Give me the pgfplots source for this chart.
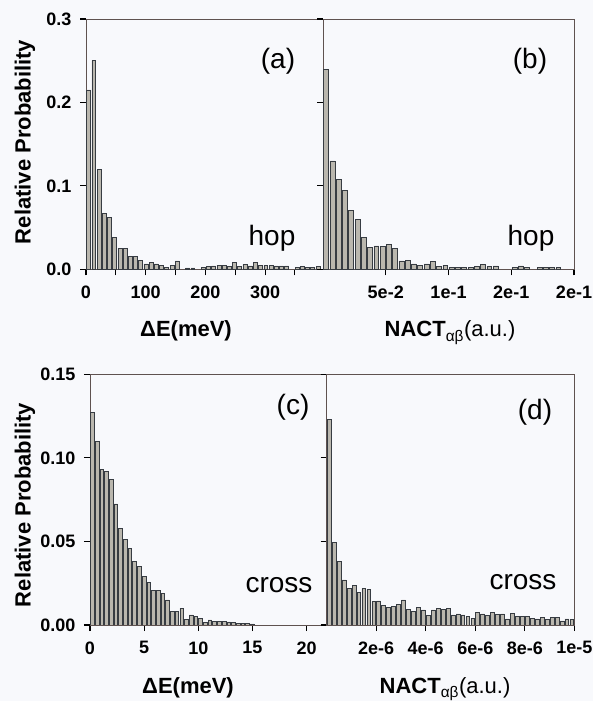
\documentclass[border=0pt]{standalone}
\usepackage{fontspec}
\setmainfont{Liberation Sans}
\usepackage{pgfplots}
\pgfplotsset{compat=1.18}

\definecolor{bg}{RGB}{248,249,252}
\definecolor{barfill}{RGB}{186,183,174}
\definecolor{baredge}{RGB}{55,60,66}
\definecolor{frame}{RGB}{95,82,80}

\pgfplotsset{
  panel/.style={
    scale only axis, anchor=south west,
    tick align=outside, tick pos=left,
    major tick length=6pt,
    tick style={black, line width=1.1pt},
    axis line style={frame, line width=0.8pt},
    ticklabel style={font=\bfseries\fontsize{18}{20}\selectfont},
    xticklabel style={yshift=-7pt},
    yticklabel style={xshift=-5pt},
    ymin=0,
  },
  hist/.style={ybar, bar width=#1, fill=barfill, draw=baredge, line width=0.65pt},
}
\newcommand\paneltext{\fontsize{28}{30}\selectfont}
\newcommand\labeltext{\bfseries\fontsize{22}{24}\selectfont}

\begin{document}
\begin{tikzpicture}
\fill[bg] (0,0) rectangle (593pt,701pt);

% (a) hop, energy gap
\begin{axis}[panel, at={(86pt,431.7pt)}, width=237pt, height=250.3pt,
  xmin=0, xmax=397, ymax=0.3,
  xtick={0,50,...,350}, xticklabels={0,,100,,200,,300,},
  ytick={0,0.1,0.2,0.3}, yticklabels={0.0,0.1,0.2,0.3}]
\addplot[hist=6.6] coordinates {
(4.37,0.215)(13.10,0.250)(21.83,0.120)(30.56,0.067)(39.29,0.062)(48.02,0.038)
(56.75,0.025)(65.48,0.025)(74.21,0.015)(82.94,0.015)(91.67,0.011)(100.40,0.0065)
(109.13,0.0085)(117.86,0.0065)(126.59,0.005)(135.32,0.002)(144.05,0.005)(152.78,0.010)
(170.24,0.0016)(178.97,0.0016)(196.43,0.002)(205.16,0.003)(213.89,0.004)(222.62,0.005)
(231.35,0.005)(240.08,0.003)(248.81,0.008)(257.54,0.003)(266.27,0.006)(275.00,0.004)
(283.73,0.008)(292.46,0.005)(301.19,0.005)(309.92,0.005)(318.65,0.004)(327.38,0.004)
(336.11,0.004)(353.57,0.002)(362.30,0.003)(371.03,0.002)(379.76,0.002)(388.49,0.003)
};
\end{axis}

% (b) hop, coupling
\begin{axis}[panel, at={(323pt,431.7pt)}, width=251pt, height=250.3pt,
  xmin=0, xmax=0.2, ymax=0.3,
  xtick={0.05,0.1,0.15,0.2}, xticklabels={5e-2,1e-1,2e-1,2e-1},
  ytick={0,0.1,0.2,0.3}, yticklabels={}]
\addplot[hist=0.0039] coordinates {
(0.0025,0.240)(0.0075,0.130)(0.0125,0.108)(0.0175,0.095)(0.0225,0.071)(0.0275,0.060)
(0.0325,0.038)(0.0375,0.026)(0.0425,0.028)(0.0475,0.027)(0.0525,0.030)(0.0575,0.025)
(0.0625,0.010)(0.0675,0.011)(0.0725,0.0065)(0.0775,0.005)(0.0825,0.0065)(0.0875,0.0095)
(0.0925,0.003)(0.0975,0.005)(0.1025,0.002)(0.1075,0.002)(0.1125,0.002)(0.1175,0.002)
(0.1225,0.003)(0.1275,0.006)(0.1325,0.003)(0.1375,0.004)(0.1525,0.002)(0.1575,0.004)
(0.1625,0.002)(0.1725,0.002)(0.1775,0.002)(0.1825,0.002)(0.1875,0.002)
};
\end{axis}

% (c) cross, energy gap
\begin{axis}[panel, at={(90pt,76pt)}, width=236.7pt, height=250.7pt,
  xmin=0, xmax=21.85, ymax=0.15,
  xtick={0,5,10,15,20}, xticklabels={0,5,10,15,20},
  ytick={0,0.05,0.1,0.15}, yticklabels={0.00,0.05,0.10,0.15}]
\addplot[hist=0.34] coordinates {
(0.217,0.127)(0.651,0.110)(1.085,0.093)(1.519,0.092)(1.953,0.087)(2.387,0.0725)
(2.821,0.058)(3.255,0.051)(3.689,0.046)(4.123,0.038)(4.557,0.035)(4.991,0.029)
(5.425,0.0255)(5.859,0.0205)(6.293,0.0205)(6.727,0.019)(7.161,0.015)(7.595,0.008)
(8.029,0.008)(8.463,0.010)(8.897,0.0035)(9.331,0.006)(9.765,0.005)(10.199,0.004)
(10.633,0.0016)(11.067,0.003)(11.501,0.0022)(11.935,0.002)(12.369,0.0022)(12.803,0.0018)
(13.237,0.0016)(13.671,0.001)(14.105,0.001)(14.539,0.0008)(14.973,0.0006)
};
\end{axis}

% (d) cross, coupling (x in units of 1e-6)
\begin{axis}[panel, at={(326.7pt,76pt)}, width=247.6pt, height=250.7pt,
  xmin=0, xmax=10, ymax=0.15,
  xtick={2,4,6,8,10}, xticklabels={2e-6,4e-6,6e-6,8e-6,1e-5},
  ytick={0,0.05,0.1,0.15}, yticklabels={}]
\addplot[hist=0.155] coordinates {
(0.1,0.123)(0.3,0.0494)(0.5,0.0378)(0.7,0.027)(0.9,0.022)(1.1,0.0236)(1.3,0.0194)
(1.5,0.0218)(1.7,0.0214)(1.9,0.014)(2.1,0.0144)(2.3,0.0116)(2.5,0.0104)(2.7,0.011)
(2.9,0.0124)(3.1,0.015)(3.3,0.0094)(3.5,0.008)(3.7,0.0106)(3.9,0.009)(4.1,0.0056)
(4.3,0.009)(4.5,0.0098)(4.7,0.0094)(4.9,0.010)(5.1,0.006)(5.3,0.0066)(5.5,0.006)
(5.7,0.005)(5.9,0.004)(6.1,0.0076)(6.3,0.0066)(6.5,0.0056)(6.7,0.0074)(6.9,0.0064)
(7.1,0.0066)(7.3,0.0036)(7.5,0.007)(7.7,0.005)(7.9,0.005)(8.1,0.005)(8.3,0.004)
(8.5,0.0036)(8.7,0.0044)(8.9,0.0034)(9.1,0.0044)(9.3,0.0046)(9.5,0.0024)(9.7,0.0036)
(9.9,0.0034)
};
\end{axis}

% panel texts
\node[font=\paneltext] at (278pt,640pt) {(a)};
\node[font=\paneltext, anchor=base] at (272pt,455pt) {hop};
\node[font=\paneltext] at (530pt,640pt) {(b)};
\node[font=\paneltext, anchor=base] at (531pt,455pt) {hop};
\node[font=\paneltext] at (293pt,294pt) {(c)};
\node[font=\paneltext, anchor=base] at (279pt,108pt) {cross};
\node[font=\paneltext] at (535pt,289pt) {(d)};
\node[font=\paneltext, anchor=base] at (523pt,111pt) {cross};

% axis titles
\node[font=\labeltext, rotate=90] at (25pt,559pt) {Relative Probability};
\node[font=\labeltext, rotate=90] at (25pt,196pt) {Relative Probability};
\node[font=\labeltext, anchor=base] at (186pt,364pt) {ΔE(meV)};
\node[font=\labeltext, anchor=base] at (188pt,8pt) {ΔE(meV)};
\node[font=\fontsize{22}{24}\selectfont, anchor=base] at (450pt,364pt) {\textbf{NACT}\textsubscript{αβ}(a.u.)};
\node[font=\fontsize{22}{24}\selectfont, anchor=base] at (445pt,8pt) {\textbf{NACT}\textsubscript{αβ}(a.u.)};

\pgfresetboundingbox
\useasboundingbox (0,0) rectangle (593pt,701pt);
\end{tikzpicture}
\end{document}
